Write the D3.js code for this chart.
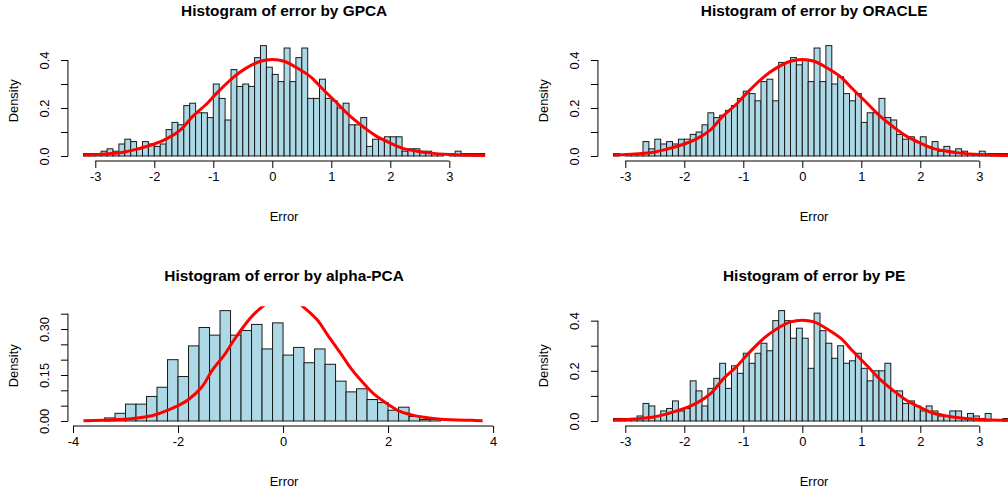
<!DOCTYPE html>
<html>
<head>
<meta charset="utf-8">
<script src="https://cdn.jsdelivr.net/npm/d3@7/dist/d3.min.js"></script>
<style>
  html, body { margin: 0; padding: 0; background: #ffffff; }
  svg { display: block; font-family: "Liberation Sans", Arial, Helvetica, sans-serif; }
</style>
</head>
<body>
<svg id="chart" width="1008" height="495"></svg>
<script>
// ---------------- DATA ----------------
const panelTitles = [
  "Histogram of error by GPCA",
  "Histogram of error by ORACLE",
  "Histogram of error by alpha-PCA",
  "Histogram of error by PE"
];
const xAxisTitle = "Error";
const yAxisTitle = "Density";

// histogram bins: first break and bin width
const fineBreakStart = -3.2, fineBinWidth = 0.1;   // GPCA, ORACLE, PE (68 bins up to 3.6)
const alphaBreakStart = -3.4, alphaBinWidth = 0.2; // alpha-PCA (32 bins up to 3.0)

const gpcaDensity = [
  0.01,0.01,0.01,0.02,0.03,0.02,0.05,0.07,0.06,0.03,
  0.06,0.05,0.04,0.05,0.11,0.14,0.13,0.21,0.22,0.18,
  0.18,0.16,0.30,0.24,0.15,0.36,0.29,0.30,0.29,0.41,
  0.46,0.37,0.34,0.31,0.45,0.31,0.41,0.45,0.24,0.24,
  0.32,0.24,0.23,0.20,0.22,0.13,0.13,0.16,0.04,0.07,
  0.07,0.08,0.08,0.08,0.02,0.03,0.03,0.02,0.02,0.01,
  0.01,0.00,0.01,0.02,0.01,0.01,0.01,0.01
];
const oracleDensity = [
  0.01,0.00,0.01,0.01,0.01,0.06,0.03,0.07,0.05,0.06,
  0.05,0.07,0.07,0.09,0.10,0.13,0.18,0.16,0.17,0.19,
  0.21,0.24,0.27,0.26,0.23,0.31,0.32,0.23,0.39,0.39,
  0.41,0.38,0.40,0.31,0.45,0.31,0.46,0.30,0.33,0.26,
  0.23,0.26,0.14,0.18,0.18,0.24,0.16,0.15,0.09,0.07,
  0.08,0.06,0.08,0.04,0.06,0.02,0.04,0.02,0.03,0.02,
  0.01,0.01,0.02,0.01,0.01,0.01,0.01,0.01
];
const alphaDensity = [
  0.010,0.025,0.055,0.055,0.080,0.110,0.200,0.145,0.245,0.305,
  0.280,0.360,0.280,0.295,0.315,0.235,0.320,0.215,0.240,0.190,
  0.235,0.185,0.130,0.095,0.105,0.070,0.060,0.035,0.045,0.015,
  0.005,0.005
];
const peDensity = [
  0.01,0.01,0.01,0.01,0.02,0.07,0.06,0.02,0.04,0.05,
  0.08,0.04,0.05,0.16,0.12,0.06,0.13,0.17,0.23,0.13,
  0.22,0.19,0.27,0.23,0.27,0.31,0.28,0.40,0.44,0.40,
  0.33,0.37,0.33,0.21,0.43,0.36,0.31,0.25,0.30,0.23,
  0.24,0.27,0.21,0.16,0.20,0.20,0.23,0.12,0.12,0.07,
  0.08,0.06,0.04,0.06,0.04,0.02,0.02,0.04,0.04,0.01,
  0.03,0.02,0.01,0.03,0.00,0.00,0.01,0.01
];

// red density curve (x, density)
const curveX = [-3.8,-3.2,-2.9,-2.5,-2.3,-2.0,-1.8,-1.55,-1.35,-1.1,-0.95,-0.65,-0.45,-0.2,0.0,
                 0.2,0.4,0.65,0.85,1.1,1.3,1.55,1.75,2.0,2.2,2.45,2.65,3.0,3.6,3.8];
const curveY = [0.001,0.004,0.007,0.017,0.028,0.05,0.07,0.11,0.165,0.22,0.26,0.33,0.365,0.395,0.402,
                 0.395,0.37,0.33,0.28,0.22,0.17,0.12,0.085,0.054,0.033,0.02,0.013,0.006,0.002,0.001];

// tick values / labels
const xTicksFine = [-3,-2,-1,0,1,2,3];
const xTicksAlpha = [-4,-2,0,2,4];
const yTicksFine = [0,0.1,0.2,0.3,0.4];
const yLabelsFine = ["0.0","","0.2","","0.4"];
const yTicksAlpha = [0,0.05,0.10,0.15,0.20,0.25,0.30,0.35];
const yLabelsAlpha = ["0.00","","","0.15","","","0.30",""];

// ---------------- LAYOUT ----------------
const svg = d3.select("#chart");
const plotW = 433.3, plotH = 119.2;
const colLeft = [67.45, 597.45];
const rowTop = [41.2, 306.2];
const axisFont = 12.9, titleFont = 15.4;

const curvePts = curveX.map((x, i) => ({x, y: curveY[i]}));

const panels = [
  {title: panelTitles[0], values: gpcaDensity,   start: fineBreakStart,  bw: fineBinWidth,  xlim: [-3.2, 3.6],  curve: [-3.2, 3.6], xt: xTicksFine,  yt: yTicksFine,  yl: yLabelsFine,  col: 0, row: 0},
  {title: panelTitles[1], values: oracleDensity, start: fineBreakStart,  bw: fineBinWidth,  xlim: [-3.2, 3.6],  curve: [-3.2, 3.6], xt: xTicksFine,  yt: yTicksFine,  yl: yLabelsFine,  col: 1, row: 0},
  {title: panelTitles[2], values: alphaDensity,  start: alphaBreakStart, bw: alphaBinWidth, xlim: [-3.8, 3.84], curve: [-3.8, 3.8], xt: xTicksAlpha, yt: yTicksAlpha, yl: yLabelsAlpha, col: 0, row: 1},
  {title: panelTitles[3], values: peDensity,     start: fineBreakStart,  bw: fineBinWidth,  xlim: [-3.2, 3.6],  curve: [-3.2, 3.6], xt: xTicksFine,  yt: yTicksFine,  yl: yLabelsFine,  col: 1, row: 1}
];

panels.forEach((p, idx) => {
  const L = colLeft[p.col], T = rowTop[p.row], R = L + plotW, B = T + plotH;
  const xr = p.xlim[1] - p.xlim[0];
  const x = d3.scaleLinear().domain([p.xlim[0] - 0.04 * xr, p.xlim[1] + 0.04 * xr]).range([L, R]);
  const ymax = d3.max(p.values);
  const y = d3.scaleLinear().domain([-0.04 * ymax, 1.04 * ymax]).range([B, T]);
  const g = svg.append("g");

  const clipId = "clip" + idx;
  svg.append("clipPath").attr("id", clipId)
    .append("rect").attr("x", L).attr("y", T).attr("width", plotW).attr("height", plotH);

  const bins = p.values.map((v, i) => ({x0: p.start + i * p.bw, x1: p.start + (i + 1) * p.bw, v}));

  // bars
  g.append("g").attr("clip-path", `url(#${clipId})`)
    .selectAll("rect").data(bins).join("rect")
    .attr("x", d => x(d.x0))
    .attr("y", d => y(d.v))
    .attr("width", d => x(d.x1) - x(d.x0))
    .attr("height", d => y(0) - y(d.v))
    .attr("fill", "#add8e6")
    .attr("stroke", "#1a1a1a")
    .attr("stroke-width", 1);

  // red curve
  const line = d3.line().x(d => x(d.x)).y(d => y(d.y)).curve(d3.curveCatmullRom);
  g.append("path").attr("clip-path", `url(#${clipId})`)
    .datum(curvePts.filter(d => d.x >= p.curve[0] - 1e-9 && d.x <= p.curve[1] + 1e-9))
    .attr("d", line)
    .attr("fill", "none")
    .attr("stroke", "#ff0000")
    .attr("stroke-width", 3)
    .attr("stroke-linejoin", "round");

  // x axis
  const xa = g.append("g").attr("transform", `translate(0,${B + 0.6})`)
    .call(d3.axisBottom(x).tickValues(p.xt).tickSize(7).tickPadding(4).tickFormat(d3.format("d")));
  xa.select(".domain").remove();
  xa.append("line").attr("x1", x(p.xt[0])).attr("x2", x(p.xt[p.xt.length - 1]))
    .attr("y1", 0).attr("y2", 0).attr("stroke", "#000");
  xa.selectAll(".tick line").attr("stroke", "#000");
  xa.selectAll(".tick text").attr("fill", "#000").attr("font-size", axisFont)
    .attr("font-family", "Liberation Sans, Arial, sans-serif")
    .text(d => d < 0 ? "-" + Math.abs(d) : String(d));

  // y axis
  const ya = g.append("g").attr("transform", `translate(${L + 0.5},0)`)
    .call(d3.axisLeft(y).tickValues(p.yt).tickSize(7).tickFormat((d, i) => p.yl[i]));
  ya.select(".domain").remove();
  ya.append("line").attr("x1", 0).attr("x2", 0)
    .attr("y1", y(p.yt[0])).attr("y2", y(p.yt[p.yt.length - 1])).attr("stroke", "#000");
  ya.selectAll(".tick line").attr("stroke", "#000");
  ya.selectAll(".tick text")
    .attr("fill", "#000").attr("font-size", axisFont)
    .attr("font-family", "Liberation Sans, Arial, sans-serif")
    .attr("x", null).attr("dy", null)
    .attr("text-anchor", "middle")
    .attr("transform", "translate(-18.5,0) rotate(-90)");

  // title
  svg.append("text")
    .attr("x", (L + R) / 2).attr("y", T - 25.2)
    .attr("text-anchor", "middle")
    .attr("font-size", titleFont).attr("font-weight", "bold")
    .attr("fill", "#000")
    .text(p.title);

  // axis titles
  svg.append("text")
    .attr("x", (L + R) / 2).attr("y", B + 61)
    .attr("text-anchor", "middle").attr("font-size", axisFont).attr("fill", "#000")
    .text(xAxisTitle);
  svg.append("text")
    .attr("transform", `translate(${L - 49},${(T + B) / 2}) rotate(-90)`)
    .attr("text-anchor", "middle").attr("font-size", axisFont).attr("fill", "#000")
    .text(yAxisTitle);
});
</script>
</body>
</html>
